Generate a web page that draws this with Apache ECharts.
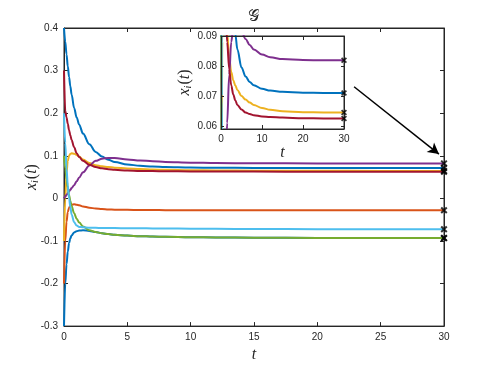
<!DOCTYPE html>
<html>
<head>
<meta charset="utf-8">
<script src="https://cdn.jsdelivr.net/npm/echarts@6/dist/echarts.min.js"></script>
<style>
  html, body { margin: 0; padding: 0; background: #fff; }
  #chart { width: 491px; height: 368px; }
</style>
</head>
<body>
<div id="chart"></div>
<script>
// time samples shared by every trajectory
const tValues = [0, 0.1, 0.2, 0.3, 0.4, 0.5, 0.6, 0.8, 1, 1.2, 1.5, 2, 2.5, 3, 3.5, 4, 5, 6, 7, 8, 10, 12, 15, 20, 25, 30];

// x_i(t)
const xBlueHigh = [0.4, 0.368, 0.338, 0.31, 0.285, 0.263, 0.244, 0.212, 0.19, 0.173, 0.152, 0.127, 0.109, 0.098, 0.0905, 0.0855, 0.0795, 0.0765, 0.0747, 0.0736, 0.0724, 0.0718, 0.0714, 0.0711, 0.071, 0.071];
const xBlueLow = [-0.3, -0.2, -0.155, -0.125, -0.105, -0.094, -0.087, -0.08, -0.077, -0.0755, -0.075, -0.0765, -0.079, -0.082, -0.084, -0.0855, -0.0875, -0.0888, -0.0897, -0.0903, -0.0912, -0.0918, -0.0924, -0.0929, -0.0932, -0.0933];
const xOrange = [-0.2, -0.1, -0.055, -0.032, -0.022, -0.017, -0.015, -0.014, -0.015, -0.016, -0.019, -0.022, -0.024, -0.025, -0.026, -0.0265, -0.027, -0.0273, -0.0275, -0.0277, -0.0279, -0.028, -0.028, -0.028, -0.028, -0.028];
const xYellow = [-0.1, 0.0, 0.06, 0.088, 0.1, 0.104, 0.106, 0.105, 0.102, 0.098, 0.091, 0.083, 0.078, 0.0752, 0.0735, 0.072, 0.07, 0.0688, 0.0678, 0.067, 0.066, 0.0654, 0.0649, 0.0646, 0.0645, 0.0645];
const xPurple = [0, 0.004, 0.008, 0.012, 0.016, 0.02, 0.024, 0.031, 0.04, 0.049, 0.061, 0.077, 0.088, 0.093, 0.095, 0.0948, 0.0915, 0.089, 0.087, 0.0855, 0.0838, 0.0829, 0.0823, 0.082, 0.0819, 0.0819];
const xGreen = [0.1, 0.07, 0.045, 0.025, 0.008, -0.006, -0.018, -0.035, -0.048, -0.057, -0.066, -0.075, -0.079, -0.082, -0.084, -0.0855, -0.0875, -0.0888, -0.0897, -0.0903, -0.0912, -0.0918, -0.0924, -0.0929, -0.0932, -0.0933];
const xLightBlue = [0.2, 0.13, 0.07, 0.03, 0.0, -0.02, -0.038, -0.056, -0.064, -0.067, -0.068, -0.069, -0.0693, -0.0695, -0.0697, -0.0699, -0.07, -0.0703, -0.0706, -0.0708, -0.0712, -0.0715, -0.072, -0.0723, -0.0725, -0.0726];
const xRed = [0.3, 0.205, 0.19, 0.175, 0.16, 0.148, 0.137, 0.12, 0.106, 0.097, 0.088, 0.079, 0.0735, 0.0705, 0.0685, 0.067, 0.0655, 0.0645, 0.064, 0.0636, 0.0632, 0.063, 0.0628, 0.0626, 0.0625, 0.0625];

// drawing order (later on top) and colours
const trajectories = [xBlueLow, xBlueHigh, xOrange, xYellow, xPurple, xGreen, xLightBlue, xRed];
const trajColors = ['#0072BD', '#0072BD', '#D95319', '#EDB120', '#7E2F8E', '#77AC30', '#4DBEEE', '#A2142F'];

// tick labels
const mainXTicks = [0, 5, 10, 15, 20, 25, 30];
const mainYTicks = [-0.3, -0.2, -0.1, 0, 0.1, 0.2, 0.3, 0.4];
const insetXTicks = [0, 10, 20, 30];
const insetYTicks = [0.06, 0.07, 0.08, 0.09];

// arrow from inset to the end points (data coords of the main axes)
const arrowFrom = [22.9, 0.262];
const arrowTo = [29.6, 0.104];

const axisColor = '#262626';
const tickFont = { fontSize: 10, color: axisColor, fontFamily: 'Liberation Sans, Arial, sans-serif' };
const crossPath = 'path://M2,0 L5,3 L8,0 L10,2 L7,5 L10,8 L8,10 L5,7 L2,10 L0,8 L3,5 L0,2 Z';

const mathRich = {
  x: { fontSize: 16, fontStyle: 'italic', fontFamily: 'Liberation Serif, serif', color: axisColor },
  i: { fontSize: 10, fontStyle: 'italic', fontFamily: 'Liberation Serif, serif', color: axisColor, verticalAlign: 'bottom', padding: [6, 1, 0, 0] },
  p: { fontSize: 16, fontFamily: 'Liberation Serif, serif', color: axisColor }
};
const xiName = '{x|x}{i|i}{p|(}{x|t}{p|)}';

const chart = echarts.init(document.getElementById('chart'), null, { renderer: 'canvas' });

function toPairs(ys) {
  return tValues.map((t, k) => [t, ys[k]]);
}

function lastPoints(lo, hi) {
  return trajectories
    .map(ys => [tValues[tValues.length - 1], ys[ys.length - 1]])
    .filter(p => p[1] >= lo && p[1] <= hi);
}

function baseAxis(extra) {
  return Object.assign({
    type: 'value',
    axisLine: { show: true, onZero: false, lineStyle: { color: axisColor, width: 1 } },
    axisTick: { show: true, inside: true, length: 4, lineStyle: { color: axisColor } },
    axisLabel: Object.assign({}, tickFont),
    splitLine: { show: false }
  }, extra);
}

const series = [];

// main axes trajectories
trajectories.forEach((ys, k) => {
  series.push({
    type: 'line',
    xAxisIndex: 0,
    yAxisIndex: 0,
    data: toPairs(ys),
    showSymbol: false,
    smooth: 0.35,
    smoothMonotone: 'x',
    lineStyle: { color: trajColors[k], width: 2 },
    silent: true,
    z: 2 + k
  });
});

series.push({
  type: 'scatter',
  xAxisIndex: 0,
  yAxisIndex: 0,
  data: lastPoints(-1, 1),
  symbol: crossPath,
  symbolSize: 7,
  itemStyle: { color: '#000' },
  clip: false,
  z: 20,
  markLine: {
    silent: true,
    symbol: ['none', 'arrow'],
    symbolSize: [9, 11],
    label: { show: false },
    lineStyle: { color: '#000', width: 1.5, type: 'solid' },
    data: [[{ coord: arrowFrom }, { coord: arrowTo }]]
  }
});

// inset trajectories
trajectories.forEach((ys, k) => {
  series.push({
    type: 'line',
    xAxisIndex: 1,
    yAxisIndex: 1,
    data: toPairs(ys),
    showSymbol: false,
    smooth: 0.35,
    smoothMonotone: 'x',
    clip: true,
    lineStyle: { color: trajColors[k], width: 2 },
    silent: true,
    z: 30 + k
  });
});

series.push({
  type: 'scatter',
  xAxisIndex: 1,
  yAxisIndex: 1,
  data: lastPoints(insetYTicks[0] - 0.001, insetYTicks[insetYTicks.length - 1]),
  symbol: crossPath,
  symbolSize: 6,
  itemStyle: { color: '#000' },
  clip: false,
  z: 50
});

const option = {
  backgroundColor: '#fff',
  animation: false,
  title: {
    text: '\u{1D4A2}',
    left: 243,
    top: 4,
    textStyle: { fontSize: 16, fontWeight: 'normal', color: axisColor, fontFamily: 'DejaVu Sans, serif' }
  },
  grid: [
    { left: 64, top: 28, width: 380, height: 299, show: true, borderColor: axisColor, borderWidth: 1, backgroundColor: '#fff', z: 0 },
    { left: 221, top: 36, width: 123, height: 93, show: true, borderColor: axisColor, borderWidth: 1, backgroundColor: '#fff', z: 25 }
  ],
  xAxis: [
    baseAxis({
      gridIndex: 0, min: mainXTicks[0], max: mainXTicks[mainXTicks.length - 1], interval: 5,
      name: 't', nameLocation: 'middle', nameGap: 16,
      nameTextStyle: { fontSize: 16, fontStyle: 'italic', fontFamily: 'Liberation Serif, serif', color: axisColor },
      axisLabel: Object.assign({ margin: 6 }, tickFont)
    }),
    baseAxis({
      gridIndex: 1, min: insetXTicks[0], max: insetXTicks[insetXTicks.length - 1], interval: 10,
      name: 't', nameLocation: 'middle', nameGap: 16, z: 40,
      nameTextStyle: { fontSize: 16, fontStyle: 'italic', fontFamily: 'Liberation Serif, serif', color: axisColor },
      axisLabel: Object.assign({ margin: 5 }, tickFont)
    }),
    baseAxis({
      gridIndex: 0, position: 'top', min: 0, max: 30, interval: 5,
      axisLabel: { show: false }
    }),
    baseAxis({
      gridIndex: 1, position: 'top', min: 0, max: 30, interval: 10, z: 40,
      axisLabel: { show: false }
    })
  ],
  yAxis: [
    baseAxis({
      gridIndex: 0, min: mainYTicks[0], max: mainYTicks[mainYTicks.length - 1], interval: 0.1,
      name: xiName, nameLocation: 'middle', nameGap: 24, nameRotate: 90, nameMoveOverlap: false,
      nameTextStyle: { rich: mathRich },
      axisLabel: Object.assign({ margin: 6, formatter: v => String(Number(v.toFixed(1))) }, tickFont)
    }),
    baseAxis({
      gridIndex: 1, min: 0.059, max: 0.09, z: 40,
      name: xiName, nameLocation: 'middle', nameGap: 28, nameRotate: 90, nameMoveOverlap: false,
      nameTextStyle: { rich: mathRich },
      axisTick: { show: true, inside: true, length: 3, lineStyle: { color: axisColor }, customValues: insetYTicks },
      axisLabel: Object.assign({ margin: 4, customValues: insetYTicks, formatter: v => v.toFixed(2) }, tickFont)
    }),
    baseAxis({
      gridIndex: 0, position: 'right', min: -0.3, max: 0.4, interval: 0.1,
      axisLabel: { show: false }
    }),
    baseAxis({
      gridIndex: 1, position: 'right', min: 0.059, max: 0.09, z: 40,
      axisTick: { show: true, inside: true, length: 3, lineStyle: { color: axisColor }, customValues: insetYTicks },
      axisLabel: { show: false, customValues: insetYTicks }
    })
  ],
  series: series
};

chart.setOption(option);

window.addEventListener('resize', () => {
  chart.resize();
});
</script>
</body>
</html>
